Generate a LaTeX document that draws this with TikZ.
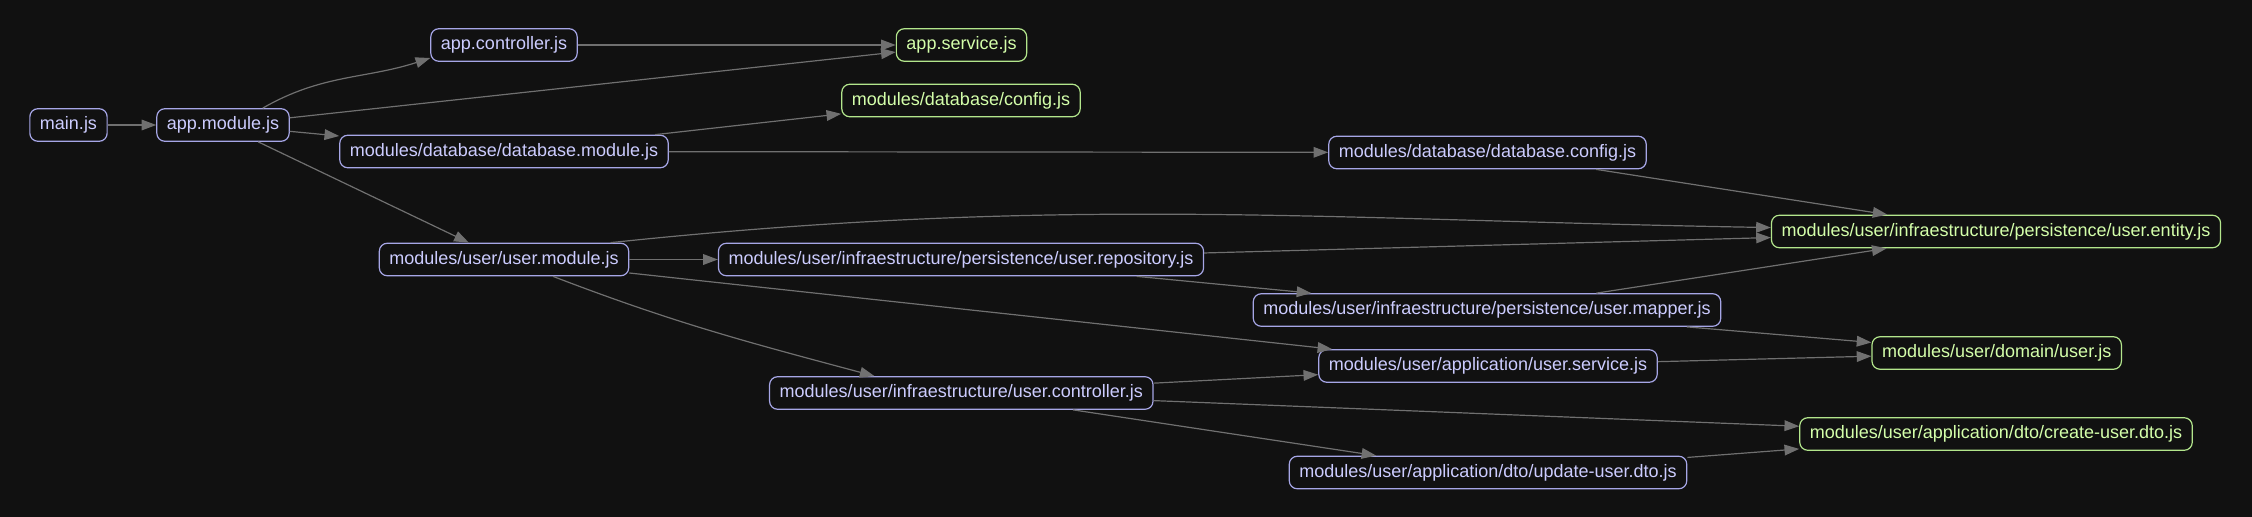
\documentclass[tikz,border=0pt]{standalone}
\usepackage{fontspec}
\setmainfont{Liberation Sans}
\usetikzlibrary{arrows.meta}
\definecolor{bg}{HTML}{111111}
\definecolor{lav}{HTML}{A6A6E6}
\definecolor{lavtext}{HTML}{CCCCFF}
\definecolor{lime}{HTML}{B3E68C}
\definecolor{limetext}{HTML}{D4FFAA}
\definecolor{wire}{HTML}{707070}
\begin{document}
\begin{tikzpicture}[x=0.75pt,y=0.75pt,>={Triangle[length=11pt,width=8pt]},
  file/.style={draw=lav,text=lavtext,rounded corners=6pt,line width=0.9pt,minimum height=24.4pt,inner xsep=7.6pt,inner ysep=0pt,font=\fontsize{13.5}{16}\selectfont},
  leaf/.style={file,draw=lime,text=limetext},
  dep/.style={draw=wire,line width=0.9pt,->}]
\fill[bg] (0,0) rectangle (2252,-517);
\useasboundingbox (0,0) rectangle (2252,-517);

\node[file] (main) at (68.5,-125) {main.js};
\node[file] (am) at (223,-125) {app.module.js};
\node[file] (ac) at (504,-45) {app.controller.js};
\node[file] (dbm) at (504,-151.5) {modules/database/database.module.js};
\node[file] (um) at (504,-259.5) {modules/user/user.module.js};
\node[leaf] (as) at (961.5,-45) {app.service.js};
\node[leaf] (dbcfg) at (961,-100.5) {modules/database/config.js};
\node[file] (urepo) at (961,-259.5) {modules/user/infraestructure/persistence/user.repository.js};
\node[file] (uctrl) at (961.3,-393) {modules/user/infraestructure/user.controller.js};
\node[file] (dbconf) at (1487.5,-152.5) {modules/database/database.config.js};
\node[file] (umap) at (1487,-310) {modules/user/infraestructure/persistence/user.mapper.js};
\node[file] (usvc) at (1488,-366) {modules/user/application/user.service.js};
\node[file] (udto) at (1488,-472.5) {modules/user/application/dto/update-user.dto.js};
\node[leaf] (uent) at (1996,-231.5) {modules/user/infraestructure/persistence/user.entity.js};
\node[leaf] (udom) at (1996.7,-353) {modules/user/domain/user.js};
\node[leaf] (cdto) at (1996,-434) {modules/user/application/dto/create-user.dto.js};

\draw[dep] (main) -- (am);
\draw[dep] (am.23) to[out=30,in=198] (ac.190);
\draw[dep] (am) -- (as);
\draw[dep] (am) -- (dbm);
\draw[dep] (am) -- (um);
\draw[dep] (ac) -- (as);
\draw[dep] (dbm) -- (dbcfg);
\draw[dep] (dbm) -- (dbconf);
\draw[dep] (dbconf) -- (uent);
\draw[dep] (um.9) to[out=6,in=179] (uent.179);
\draw[dep] (um) -- (urepo);
\draw[dep] (um) -- (usvc);
\draw[dep] (um.-19) to[out=-21,in=165] (uctrl.169);
\draw[dep] (urepo) -- (uent);
\draw[dep] (urepo) -- (umap);
\draw[dep] (umap) -- (uent);
\draw[dep] (umap) -- (udom);
\draw[dep] (usvc) -- (udom);
\draw[dep] (uctrl) -- (usvc);
\draw[dep] (uctrl) -- (cdto);
\draw[dep] (uctrl) -- (udto);
\draw[dep] (udto) -- (cdto);
\end{tikzpicture}
\end{document}
